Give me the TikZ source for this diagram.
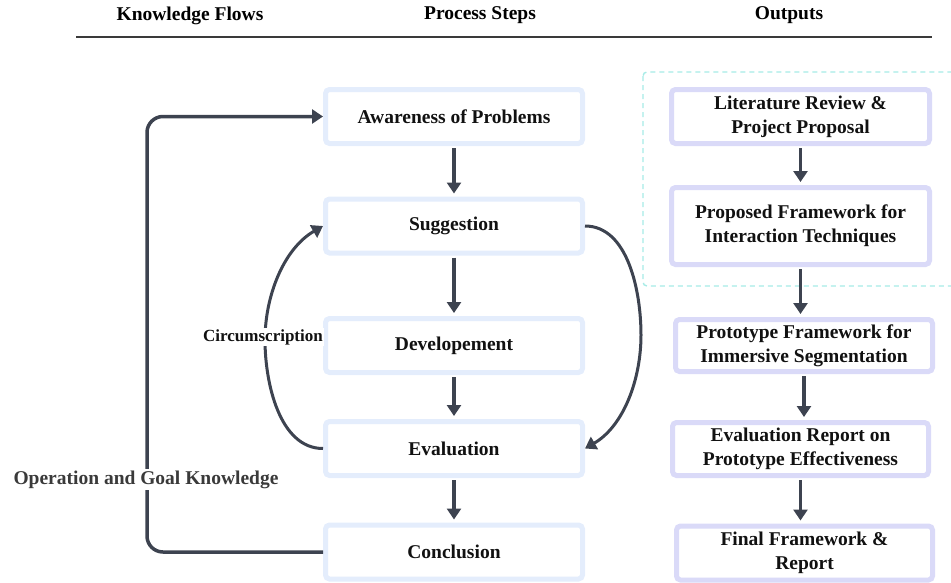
\documentclass[tikz,border=0pt]{standalone}
\usepackage{fontspec}
\setmainfont{Liberation Serif}
\usetikzlibrary{arrows.meta}
\definecolor{arr}{HTML}{3D4350}
\definecolor{pbord}{HTML}{E4EDFC}
\definecolor{obord}{HTML}{DADAF8}
\definecolor{dashc}{HTML}{A6EBE6}
\definecolor{opgray}{HTML}{3A3A3A}
\definecolor{txt}{HTML}{111111}
\begin{document}
\begin{tikzpicture}[x=1pt,y=-1pt,
  font=\bfseries\fontsize{19.5}{24}\selectfont, text=txt,
  pbox/.style={draw=pbord, line width=5pt, rounded corners=4pt, fill=white,
    minimum width=257pt, minimum height=54pt, inner sep=0pt, align=center},
  obox/.style={draw=obord, line width=5pt, rounded corners=4pt, fill=white,
    inner sep=0pt, align=center},
  flow/.style={draw=arr, line width=3.5pt, -{Triangle[width=14pt,length=11pt]}},
  vflow/.style={flow, shorten <=2pt, shorten >=3pt},
  hdr/.style={text=black},
]
\useasboundingbox (0,0) rectangle (951,582);

% headers
\node[hdr] (h1) at (190,15.5) {Knowledge Flows};
\node[hdr] (h2) at (480,15.5) {Process Steps};
\node[hdr] (h3) at (789,15.5) {Outputs};
\coordinate (r1) at (76,37);
\coordinate (r2) at (932,37);
\draw[line width=1.6pt, opgray] (r1) -- (r2);

% dashed group
\draw[dashc, line width=1.4pt, dash pattern=on 5pt off 4pt, rounded corners=4pt]
  (643,72) rectangle (962,286);

% process steps
\node[pbox] (aw) at (454,116.5) {Awareness of Problems};
\node[pbox] (su) at (454,226) {Suggestion};
\node[pbox] (de) at (454,345.5) {Developement};
\node[pbox] (ev) at (454,448.5) {Evaluation};
\node[pbox] (co) at (454,552) {Conclusion};

% outputs
\node[obox, minimum width=258pt, minimum height=54pt] (lit) at (800.5,116.5) {Literature Review \&\\Project Proposal};
\node[obox, minimum width=258pt, minimum height=77pt] (prop) at (800.5,226) {Proposed Framework for\\Interaction Techniques};
\node[obox, minimum width=257pt, minimum height=52pt] (proto) at (804,345.5) {Prototype Framework for\\Immersive Segmentation};
\node[obox, minimum width=256pt, minimum height=53pt] (evr) at (800.5,449) {Evaluation Report on\\Prototype Effectiveness};
\node[obox, minimum width=256pt, minimum height=54pt] (fin) at (804.5,553) {Final Framework \&\\Report};

% vertical arrows
\draw[vflow] (aw) -- (su);
\draw[vflow] (su) -- (de);
\draw[vflow] (de) -- (ev);
\draw[vflow] (ev) -- (co);
\draw[vflow] (lit.south) -- (lit.south |- prop.north);
\draw[vflow] (prop.south) -- (prop.south |- proto.north);
\draw[vflow] (proto.south) -- (proto.south |- evr.north);
\draw[vflow] (evr.south) -- (evr.south |- fin.north);

% operation and goal knowledge loop
\coordinate (lb) at (147,552);
\coordinate (lt) at (147,116.5);
\draw[flow, rounded corners=16pt] (co.west) -- (lb) -- (lt) -- (aw.west);
\node[fill=white, text=opgray, inner sep=2pt] (op) at (146,479.5) {Operation and Goal Knowledge};

% circumscription
\coordinate (cl) at (265,340);
\draw[flow, line width=3pt] (ev.west) to[out=180,in=270,looseness=0.9] (cl) to[out=90,in=210,looseness=0.9] (su.west);
\node[fill=white, inner sep=1pt, font=\bfseries\fontsize{17}{20}\selectfont] (circ) at (263,337) {Circumscription};

% right loop
\coordinate (cr) at (641,335);
\draw[flow, line width=3pt] (su.east) to[out=0,in=90,looseness=0.9] (cr) to[out=270,in=30,looseness=0.9] (ev.east);
\end{tikzpicture}
\end{document}
